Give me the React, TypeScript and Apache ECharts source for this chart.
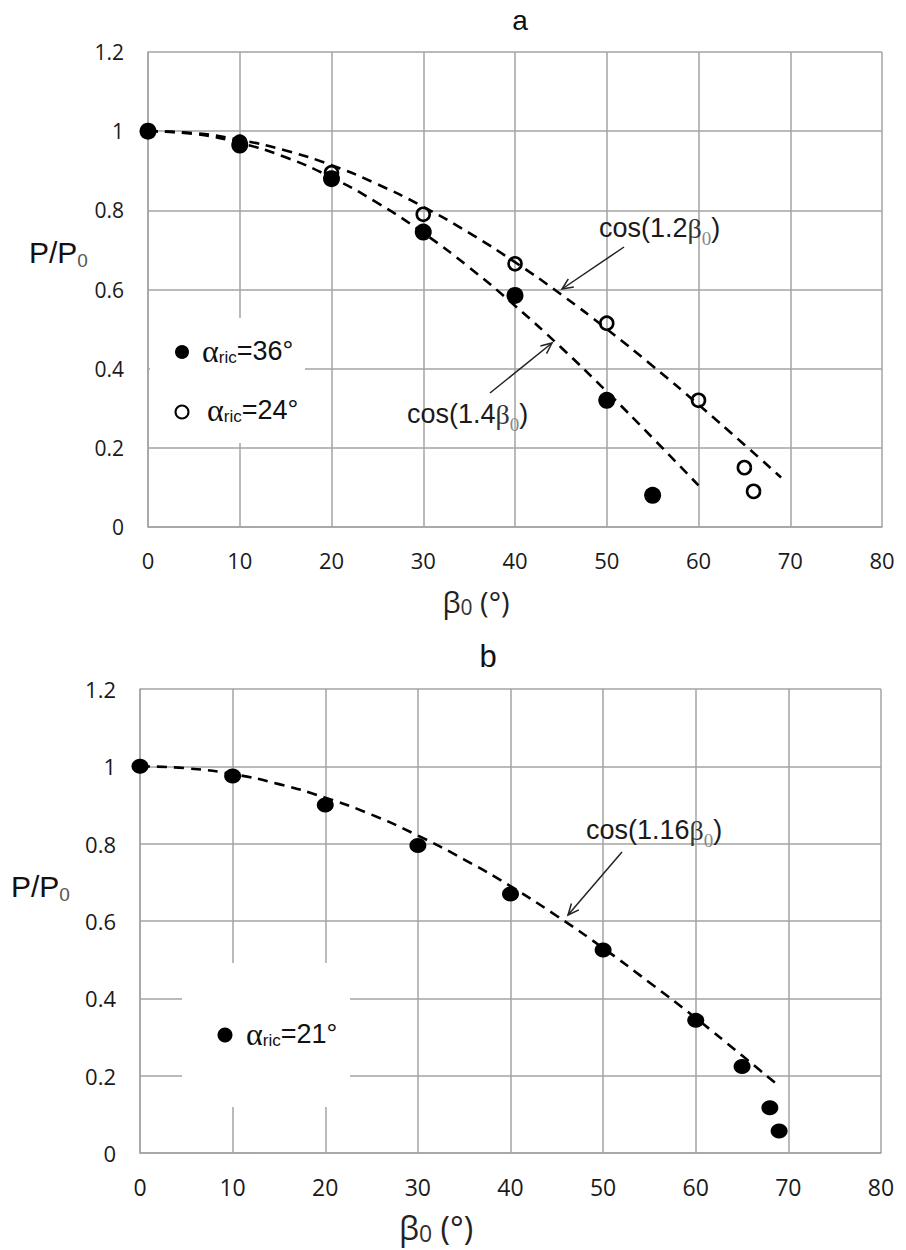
import React, { useEffect, useRef } from "react";
import * as echarts from "echarts";

// ---------- data ----------
// Panel a: alpha_ric = 36° (filled)
const betaA36 = [0, 10, 20, 30, 40, 50, 55];
const pA36 = [1.0, 0.965, 0.88, 0.745, 0.585, 0.32, 0.08];
// Panel a: alpha_ric = 24° (open)
const betaA24 = [0, 10, 20, 30, 40, 50, 60, 65, 66];
const pA24 = [1.0, 0.972, 0.895, 0.79, 0.665, 0.515, 0.32, 0.15, 0.09];
// Panel a: dashed curve cos(1.2β0)
const betaFit12 = [0, 5, 10, 15, 20, 25, 30, 35, 40, 45, 50, 55, 60, 65, 69];
const fit12 = [1.0, 0.995, 0.978, 0.951, 0.914, 0.866, 0.809, 0.743, 0.669, 0.588, 0.5, 0.407, 0.309, 0.208, 0.125];
// Panel a: dashed curve cos(1.4β0)
const betaFit14 = [0, 5, 10, 15, 20, 25, 30, 35, 40, 45, 50, 55, 60];
const fit14 = [1.0, 0.993, 0.97, 0.934, 0.883, 0.819, 0.743, 0.656, 0.559, 0.454, 0.342, 0.225, 0.105];
// Panel b: alpha_ric = 21° (filled)
const betaB21 = [0, 10, 20, 30, 40, 50, 60, 65, 68, 69];
const pB21 = [1.0, 0.975, 0.9, 0.795, 0.67, 0.525, 0.343, 0.224, 0.117, 0.057];
// Panel b: dashed curve cos(1.16β0)
const betaFit116 = [0, 5, 10, 15, 20, 25, 30, 35, 40, 45, 50, 55, 60, 65, 69];
const fit116 = [1.0, 0.995, 0.98, 0.954, 0.919, 0.875, 0.821, 0.759, 0.69, 0.613, 0.53, 0.441, 0.349, 0.252, 0.173];

// axis ranges / ticks
const X_MIN = 0, X_MAX = 80, X_STEP = 10;
const Y_MIN = 0, Y_MAX = 1.2, Y_STEP = 0.2;

const pairs = (xs: number[], ys: number[]) => xs.map((x, i) => [x, ys[i]]);

const GRID_COLOR = "#a3a3a3";
const TICK_FONT = "'Open Sans', 'DejaVu Sans', sans-serif";
const SANS = "'Liberation Sans', Arial, sans-serif";
const SERIF = "'Liberation Serif', 'DejaVu Serif', serif";

function makeXAxis(gridIndex: number, fontSize: number) {
  return {
    type: "value",
    gridIndex,
    min: X_MIN,
    max: X_MAX,
    interval: X_STEP,
    axisLine: { show: true, lineStyle: { color: GRID_COLOR, width: 1.5 } },
    axisTick: { show: false },
    splitLine: { show: true, lineStyle: { color: GRID_COLOR, width: 1.5 } },
    axisLabel: { color: "#1a1a1a", fontSize, fontFamily: TICK_FONT, margin: 22 },
  };
}
function makeYAxis(gridIndex: number, fontSize: number) {
  return {
    type: "value",
    gridIndex,
    min: Y_MIN,
    max: Y_MAX,
    interval: Y_STEP,
    axisLine: { show: true, lineStyle: { color: GRID_COLOR, width: 1.5 } },
    axisTick: { show: false },
    splitLine: { show: true, lineStyle: { color: GRID_COLOR, width: 1.5 } },
    axisLabel: { color: "#1a1a1a", fontSize, fontFamily: TICK_FONT, margin: 24 },
  };
}

const dashed = { type: [10, 7], width: 2.6, color: "#000" };

function arrow(x1: number, y1: number, x2: number, y2: number) {
  const ang = Math.atan2(y1 - y2, x1 - x2);
  const L = 12, spread = 0.42;
  const p1 = [x2 + L * Math.cos(ang + spread), y2 + L * Math.sin(ang + spread)];
  const p2 = [x2 + L * Math.cos(ang - spread), y2 + L * Math.sin(ang - spread)];
  return [
    { type: "line", z: 60, shape: { x1, y1, x2, y2 }, style: { stroke: "#222", lineWidth: 1.5 } },
    { type: "polyline", z: 60, shape: { points: [p1, [x2, y2], p2] }, style: { stroke: "#222", lineWidth: 1.5, fill: null } },
  ];
}

// rich-text token helpers: "main" tokens sit at the top of a line of height L,
// "sub" tokens sit at its bottom with height h -> subscript drop of (L-h)/2
function mainTok(size: number, family: string, color: string, L: number) {
  return { fontSize: size, fontFamily: family, fill: color, color, lineHeight: L, height: L, verticalAlign: "top" };
}
function subTok(size: number, family: string, color: string, h: number) {
  return { fontSize: size, fontFamily: family, fill: color, color, lineHeight: h, height: h, verticalAlign: "bottom" };
}

function cosLabel(x: number, y: number, coef: string) {
  return {
    type: "text",
    z: 60,
    x,
    y,
    style: {
      text: `{c|cos(${coef}}{b|β}{s|0}{c|)}`,
      verticalAlign: "middle",
      align: "left",
      rich: {
        c: mainTok(27, SANS, "#1a1a1a", 30),
        b: mainTok(28, SERIF, "#333", 30),
        s: subTok(19, SERIF, "#888", 10),
      },
    },
  };
}

function alphaLabel(x: number, y: number, val: string) {
  return {
    type: "text",
    z: 60,
    x,
    y,
    style: {
      text: `{a|α}{s|ric}{m|=${val}°}`,
      verticalAlign: "middle",
      align: "left",
      rich: {
        a: mainTok(32, SERIF, "#111", 26),
        m: mainTok(27, SANS, "#111", 26),
        s: subTok(17, SANS, "#111", 14),
      },
    },
  };
}

function yTitle(x: number, y: number) {
  return {
    type: "text",
    z: 60,
    x,
    y,
    style: {
      text: "{m|P/P}{s|0}",
      verticalAlign: "middle",
      align: "left",
      rich: {
        m: mainTok(30, SANS, "#111", 30),
        s: subTok(19, SANS, "#555", 14),
      },
    },
  };
}

function xTitle(x: number, y: number, size: number) {
  return {
    type: "text",
    z: 60,
    x,
    y,
    style: {
      text: "{m|β}{s|0}{m| (°)}",
      verticalAlign: "middle",
      align: "center",
      rich: {
        m: mainTok(size, TICK_FONT, "#222", size),
        s: subTok(Math.round(size * 0.72), TICK_FONT, "#333", size - 12),
      },
    },
  };
}

export default function App() {
  const ref = useRef<HTMLDivElement>(null);
  useEffect(() => {
    if (!ref.current) return;
    const chart = echarts.init(ref.current, null, { renderer: "svg" });
    const option: any = {
      animation: false,
      backgroundColor: "#fff",
      grid: [
        { left: 148, top: 52, width: 734, height: 475 },
        { left: 140, top: 689, width: 741, height: 464 },
      ],
      xAxis: [makeXAxis(0, 22), makeXAxis(1, 23)],
      yAxis: [makeYAxis(0, 21), makeYAxis(1, 22)],
      series: [
        {
          name: "cos(1.2β0)",
          type: "line",
          xAxisIndex: 0,
          yAxisIndex: 0,
          data: pairs(betaFit12, fit12),
          showSymbol: false,
          smooth: true,
          lineStyle: dashed,
          z: 3,
        },
        {
          name: "cos(1.4β0)",
          type: "line",
          xAxisIndex: 0,
          yAxisIndex: 0,
          data: pairs(betaFit14, fit14),
          showSymbol: false,
          smooth: true,
          lineStyle: dashed,
          z: 3,
        },
        {
          name: "αric=24°",
          type: "scatter",
          xAxisIndex: 0,
          yAxisIndex: 0,
          data: pairs(betaA24, pA24),
          symbol: "circle",
          symbolSize: 13,
          itemStyle: { color: "rgba(0,0,0,0)", borderColor: "#000", borderWidth: 2.6, opacity: 1 },
          z: 4,
        },
        {
          name: "αric=36°",
          type: "scatter",
          xAxisIndex: 0,
          yAxisIndex: 0,
          data: pairs(betaA36, pA36),
          symbol: "circle",
          symbolSize: 17,
          itemStyle: { color: "#000", opacity: 1 },
          z: 5,
        },
        {
          name: "cos(1.16β0)",
          type: "line",
          xAxisIndex: 1,
          yAxisIndex: 1,
          data: pairs(betaFit116, fit116),
          showSymbol: false,
          smooth: true,
          lineStyle: dashed,
          z: 3,
        },
        {
          name: "αric=21°",
          type: "scatter",
          xAxisIndex: 1,
          yAxisIndex: 1,
          data: pairs(betaB21, pB21),
          symbol: "circle",
          symbolSize: [17, 15],
          itemStyle: { color: "#000", opacity: 1 },
          z: 5,
        },
      ],
      graphic: [
        // panel titles
        { type: "text", z: 60, x: 520, y: 20, style: { text: "a", fontSize: 28, fontFamily: SANS, fill: "#111", align: "center", verticalAlign: "middle" } },
        { type: "text", z: 60, x: 488, y: 656, style: { text: "b", fontSize: 31, fontFamily: SANS, fill: "#111", align: "center", verticalAlign: "middle" } },
        // axis titles
        yTitle(29, 252),
        yTitle(11, 886),
        xTitle(476, 601, 29),
        xTitle(436, 1227, 32),
        // legend a
        { type: "rect", z: 50, shape: { x: 150, y: 318, width: 155, height: 125 }, style: { fill: "#fff" } },
        { type: "circle", z: 60, shape: { cx: 182, cy: 352, r: 7 }, style: { fill: "#000" } },
        alphaLabel(202, 351, "36"),
        { type: "circle", z: 60, shape: { cx: 182, cy: 412, r: 6.5 }, style: { fill: "#fff", stroke: "#000", lineWidth: 2 } },
        alphaLabel(207, 410, "24"),
        // legend b
        { type: "rect", z: 50, shape: { x: 182, y: 963, width: 168, height: 144 }, style: { fill: "#fff" } },
        { type: "circle", z: 60, shape: { cx: 225, cy: 1035, r: 7.5 }, style: { fill: "#000" } },
        alphaLabel(246, 1034, "21"),
        // annotations
        cosLabel(599, 228, "1.2"),
        ...arrow(624, 247, 562, 289),
        cosLabel(407, 414, "1.4"),
        ...arrow(490, 393, 552, 343),
        cosLabel(586, 830, "1.16"),
        ...arrow(622, 852, 568, 915),
      ],
    };
    chart.setOption(option);
    return () => chart.dispose();
  }, []);
  return (
    <div
      ref={ref}
      style={{ position: "absolute", left: 0, top: 0, width: 906, height: 1250, background: "#fff" }}
    />
  );
}
